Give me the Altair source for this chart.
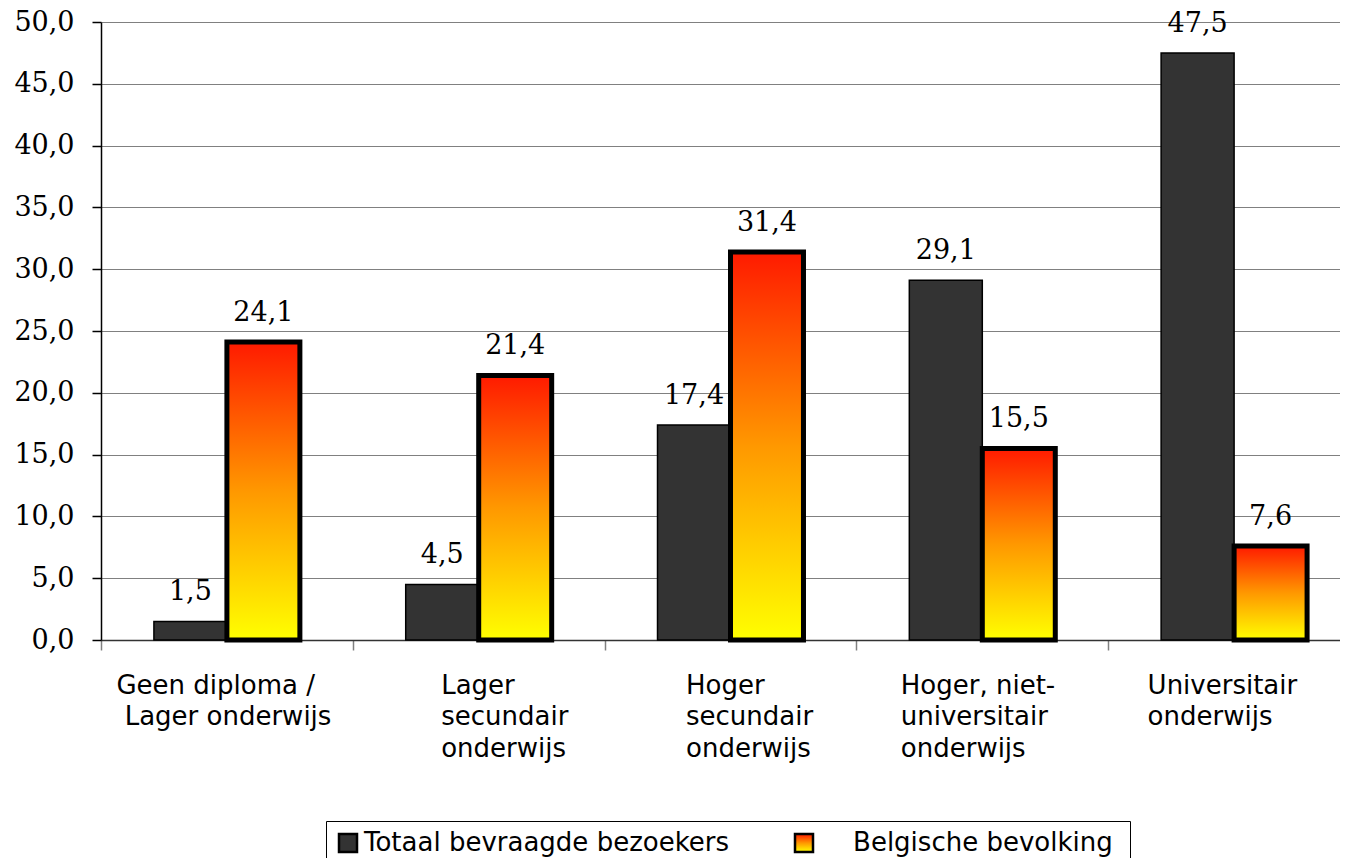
import altair as alt
import pandas as pd

ZW = "\u200b"   # zero-width char keeps the padding from being trimmed
NB = "\u00a0"

# ---- data ----
categories = [
    "Geen diploma /|" + ZW + NB + "Lager onderwijs",
    "Lager|secundair|onderwijs",
    "Hoger|secundair|onderwijs",
    "Hoger, niet-|universitair|onderwijs",
    "Universitair|onderwijs",
]
series = ["Totaal bevraagde bezoekers", "Belgische bevolking"]
bezoekers = [1.5, 4.5, 17.4, 29.1, 47.5]
bevolking = [24.1, 21.4, 31.4, 15.5, 7.6]
y_ticks = [0, 5, 10, 15, 20, 25, 30, 35, 40, 45, 50]
label_shift = [-111, -38, -45, -82, -87]

df = pd.DataFrame({
    "cat": categories * 2,
    "series": [series[0]] * len(categories) + [series[1]] * len(categories),
    "value": bezoekers + bevolking,
})

grad_stops = [
    alt.GradientStop(offset=0, color="#ff1a00"),
    alt.GradientStop(offset=0.5, color="#ff9800"),
    alt.GradientStop(offset=1, color="#ffff00"),
]
grad_expr = ("{gradient: 'linear', x1: 0, y1: 0, x2: 0, y2: 1, stops: ["
             "{offset: 0, color: '#ff1a00'}, {offset: 0.5, color: '#ff9800'}, "
             "{offset: 1, color: '#ffff00'}]}")

offset_cond = {
    "condition": [
        {"test": "datum.value === '" + c + "'", "value": s}
        for c, s in zip(categories, label_shift)
    ],
    "value": 0,
}

x_enc = alt.X(
    "cat:N",
    sort=categories,
    title=None,
    scale=alt.Scale(range=[0, 1259], paddingInner=0, paddingOuter=0),
    axis=alt.Axis(
        labelExpr="isString(datum.value) ? split(datum.value, '|') : ''",
        labelAngle=0,
        labelAlign="left",
        labelBaseline="top",
        labelOffset=offset_cond,
        labelFont="DejaVu Sans",
        labelFontSize=26,
        labelLineHeight=31.5,
        labelPadding=22,
        labelColor="black",
        labelLimit=400,
        tickBand="extent",
        tickSize=10,
        tickColor="#808080",
        tickWidth=1.5,
        domainColor="#333333",
        domainWidth=1.5,
        grid=False,
    ),
)
xoff_enc = alt.XOffset("series:N", sort=series,
                       scale=alt.Scale(paddingOuter=0.725, paddingInner=0))
y_enc = alt.Y(
    "value:Q",
    title=None,
    scale=alt.Scale(domain=[0, 50], nice=False),
    axis=alt.Axis(
        values=y_ticks,
        labelExpr="replace(format(datum.value, '.1f'), '.', ',')",
        labelFont="DejaVu Serif",
        labelFontSize=27,
        labelColor="black",
        labelPadding=18,
        tickSize=9,
        tickColor="black",
        tickWidth=1.5,
        domainColor="black",
        domainWidth=1.5,
        grid=True,
        gridColor="#808080",
        gridWidth=1.2,
    ),
)

base = alt.Chart(df).encode(x=x_enc, xOffset=xoff_enc, y=y_enc)

pad_expr = ("indexof(datum.label, 'Belg') == 0 ? '" + ZW + NB * 4 + "' + datum.label + '"
            + NB + ZW + "' : datum.label")

gray = base.transform_filter(alt.datum.series == series[0]).mark_bar(
    stroke="black", strokeWidth=1.5
).encode(
    fill=alt.Fill(
        "series:N",
        scale=alt.Scale(domain=series, range=["#333333", {"expr": grad_expr}]),
        legend=alt.Legend(
            title=None,
            orient="none",
            legendX=225,
            legendY=799,
            direction="horizontal",
            symbolType="square",
            symbolSize=324,
            symbolStrokeColor="black",
            symbolStrokeWidth=2.5,
            labelFont="DejaVu Sans",
            labelFontSize=26,
            labelColor="black",
            labelLimit=700,
            labelOffset=3,
            columnPadding=60,
            padding=9,
            strokeColor="black",
            fillColor="white",
            labelExpr=pad_expr,
        ),
    )
)

orange = base.transform_filter(alt.datum.series == series[1]).mark_bar(
    fill=alt.Gradient(gradient="linear", stops=grad_stops, x1=0, x2=0, y1=0, y2=1),
    stroke="black",
    strokeWidth=5,
)

labels = base.transform_calculate(
    txt="replace(format(datum.value, '.1f'), '.', ',')"
).mark_text(
    font="DejaVu Serif", fontSize=27, baseline="alphabetic", dy=-21, color="black"
).encode(text="txt:N")

chart = alt.layer(gray, orange, labels).properties(
    width=1239,
    height=618,
    autosize=alt.AutoSizeParams(type="none"),
    padding={"left": 93, "top": 14, "right": 0, "bottom": 218},
).configure_view(stroke=None)

chart.save("out.html", embed_options={"renderer": "svg", "actions": False})
